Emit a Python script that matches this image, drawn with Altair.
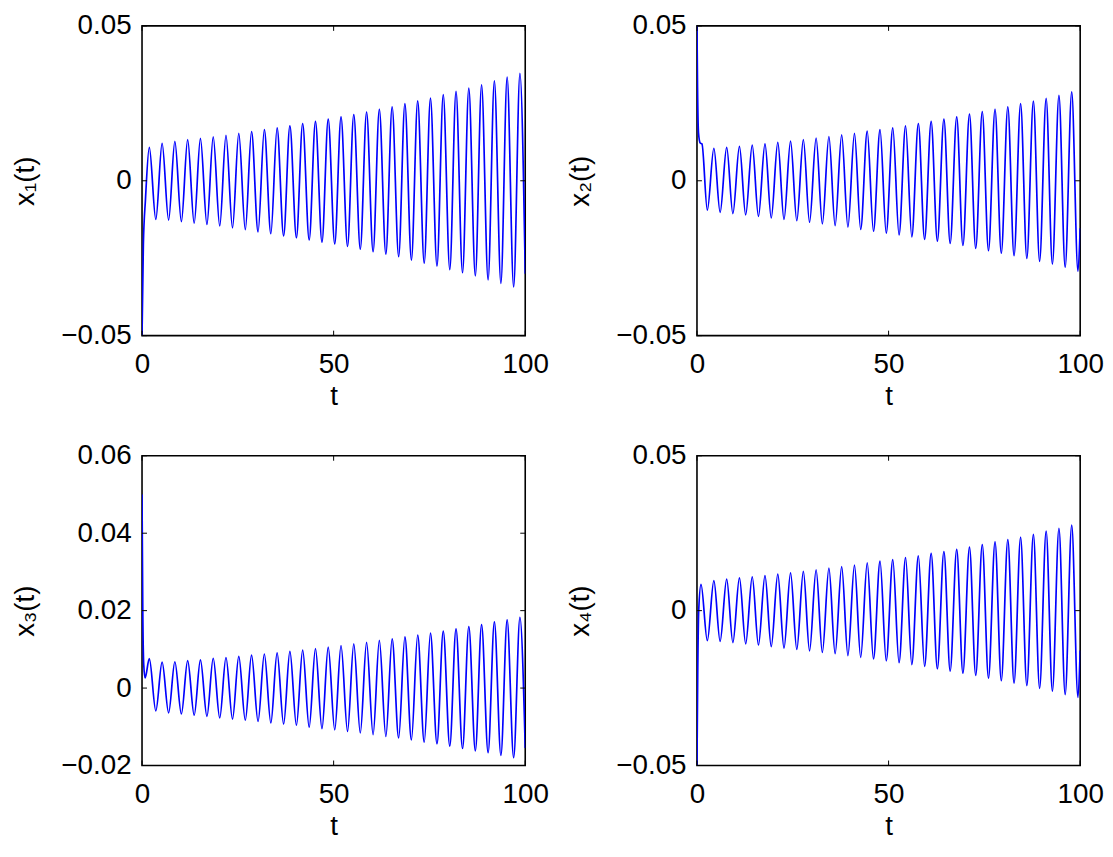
import altair as alt
import pandas as pd

# ---- tick values ----
x_ticks = [0, 50, 100]
y_ticks_a = [-0.05, 0, 0.05]
y_ticks_c = [-0.02, 0, 0.02, 0.04, 0.06]

# ---- times of maxima / minima ----
t_peaks_a = [1.9, 5.24, 8.57, 11.91, 15.24, 18.58, 21.91, 25.25, 28.58, 31.92,
             35.25, 38.59, 41.92, 45.26, 48.59, 51.93, 55.26, 58.6, 61.93, 65.27,
             68.6, 71.94, 75.27, 78.61, 81.94, 85.28, 88.61, 91.95, 95.28, 98.62]
t_troughs_a = [3.6, 6.94, 10.27, 13.61, 16.94, 20.28, 23.61, 26.95, 30.28, 33.62,
               36.95, 40.29, 43.62, 46.96, 50.29, 53.63, 56.96, 60.3, 63.63, 66.97,
               70.3, 73.64, 76.97, 80.31, 83.64, 86.98, 90.31, 93.65, 96.98]
t_peaks_b = [4.41, 7.75, 11.08, 14.42, 17.75, 21.09, 24.42, 27.76, 31.09, 34.43,
             37.76, 41.1, 44.43, 47.77, 51.1, 54.44, 57.77, 61.11, 64.44, 67.78,
             71.11, 74.45, 77.78, 81.12, 84.45, 87.79, 91.12, 94.46, 97.79]
t_troughs_b = [2.7, 6.04, 9.37, 12.71, 16.04, 19.38, 22.71, 26.05, 29.38, 32.72,
               36.05, 39.39, 42.72, 46.06, 49.39, 52.73, 56.06, 59.4, 62.73, 66.07,
               69.4, 72.74, 76.07, 79.41, 82.74, 86.08, 89.41, 92.75, 96.08, 99.42]

# ---- x1 ----
x1_start_t = [0, 0.35, 0.9]
x1_start_v = [-0.05, -0.0206, -0.006]
x1_peaks = [0.0108, 0.0121, 0.0127, 0.0133, 0.0137, 0.0142, 0.0147, 0.0153, 0.0159, 0.0165,
            0.0171, 0.0177, 0.0185, 0.0192, 0.0199, 0.0206, 0.0214, 0.0222, 0.0231, 0.0239,
            0.0249, 0.0258, 0.0267, 0.0278, 0.0289, 0.0299, 0.0310, 0.0323, 0.0335, 0.0347]
x1_troughs = [-0.0125, -0.0127, -0.0132, -0.0137, -0.0141, -0.0146, -0.0152, -0.0158, -0.0165, -0.0171,
              -0.0178, -0.0184, -0.0191, -0.0198, -0.0204, -0.0212, -0.0221, -0.0229, -0.0237, -0.0245,
              -0.0256, -0.0266, -0.0276, -0.0287, -0.0297, -0.0307, -0.0320, -0.0331, -0.0343]
x1_end = -0.030

# ---- x2 ----
x2_start_t = [0, 0.15, 0.4, 0.85, 1.3]
x2_start_v = [0.05, 0.03, 0.0154, 0.0122, 0.0119]
x2_peaks = [0.0105, 0.0108, 0.0111, 0.0115, 0.0119, 0.0124, 0.0128, 0.0133, 0.0138, 0.0143,
            0.0148, 0.0153, 0.0160, 0.0165, 0.0171, 0.0177, 0.0185, 0.0192, 0.0199, 0.0206,
            0.0215, 0.0223, 0.0231, 0.0239, 0.0249, 0.0257, 0.0266, 0.0276, 0.0287]
x2_troughs = [-0.0095, -0.0102, -0.0106, -0.0110, -0.0115, -0.0120, -0.0125, -0.0129, -0.0134, -0.0139,
              -0.0145, -0.0150, -0.0157, -0.0163, -0.0169, -0.0175, -0.0181, -0.0189, -0.0195, -0.0202,
              -0.0209, -0.0218, -0.0226, -0.0234, -0.0242, -0.0251, -0.0260, -0.0269, -0.0280, -0.0292]
x2_end = -0.0153

# ---- x3 ----
x3_start_t = [0, 0.2, 0.45, 0.8]
x3_start_v = [0.05, 0.02, 0.006, 0.0026]
x3_peaks = [0.0076, 0.0067, 0.0068, 0.0071, 0.0073, 0.0077, 0.0079, 0.0082, 0.0085, 0.0088,
            0.0091, 0.0095, 0.0098, 0.0102, 0.0106, 0.0110, 0.0114, 0.0118, 0.0123, 0.0127,
            0.0132, 0.0137, 0.0142, 0.0147, 0.0153, 0.0159, 0.0164, 0.0171, 0.0176, 0.0183]
x3_troughs = [-0.0059, -0.0064, -0.0067, -0.0070, -0.0073, -0.0077, -0.0080, -0.0083, -0.0086, -0.0090,
              -0.0093, -0.0096, -0.0101, -0.0105, -0.0108, -0.0112, -0.0116, -0.0120, -0.0125, -0.0129,
              -0.0134, -0.0140, -0.0144, -0.0150, -0.0156, -0.0162, -0.0167, -0.0174, -0.0180]
x3_end = -0.0155

# ---- x4 ----
x4_start_t = [0, 0.2, 0.45]
x4_start_v = [-0.05, -0.02, 0.0]
x4_first_peak_t = [1.05]
x4_peaks = [0.0085, 0.0097, 0.0102, 0.0106, 0.0109, 0.0113, 0.0118, 0.0122, 0.0127, 0.0132,
            0.0137, 0.0142, 0.0147, 0.0154, 0.0160, 0.0165, 0.0171, 0.0177, 0.0185, 0.0191,
            0.0198, 0.0205, 0.0213, 0.0222, 0.0229, 0.0237, 0.0246, 0.0257, 0.0266, 0.0276]
x4_troughs = [-0.0097, -0.0099, -0.0103, -0.0107, -0.0111, -0.0116, -0.0121, -0.0125, -0.0130, -0.0135,
              -0.0139, -0.0145, -0.0151, -0.0156, -0.0162, -0.0168, -0.0174, -0.0180, -0.0188, -0.0195,
              -0.0202, -0.0209, -0.0218, -0.0226, -0.0234, -0.0242, -0.0251, -0.0260, -0.0271, -0.0280]
x4_end = -0.0129


def series(st, sv, pt, pv, tt, tv, end_v):
    pts = list(zip(st, sv)) + list(zip(pt, pv)) + list(zip(tt, tv)) + [(100, end_v)]
    pts.sort(key=lambda p: p[0])
    return pd.DataFrame(pts, columns=["t", "v"])


df1 = series(x1_start_t, x1_start_v, t_peaks_a, x1_peaks, t_troughs_a, x1_troughs, x1_end)
df2 = series(x2_start_t, x2_start_v, t_peaks_b, x2_peaks, t_troughs_b, x2_troughs, x2_end)
df3 = series(x3_start_t, x3_start_v, t_peaks_a, x3_peaks, t_troughs_a, x3_troughs, x3_end)
df4 = series(x4_start_t, x4_start_v, x4_first_peak_t + t_peaks_b, x4_peaks, t_troughs_b, x4_troughs, x4_end)

W, H = 386, 312
FS = 28
TICK = 5
FONT = "Liberation Sans"


def panel(df, ydom, yticks, ytitle):
    xscale = alt.Scale(domain=[0, 100], nice=False, zero=False)
    yscale = alt.Scale(domain=ydom, nice=False, zero=False)
    xaxis = alt.Axis(values=x_ticks, title="t", labelFlush=False, labelPadding=15,
                     titlePadding=4, labelOverlap=False, domain=False, ticks=False,
                     grid=False, labelFont=FONT, titleFont=FONT, labelFontSize=FS,
                     titleFontSize=FS, titleFontWeight="normal",
                     labelColor="black", titleColor="black")
    yaxis = alt.Axis(values=yticks, title=ytitle, labelFlush=False, labelPadding=11,
                     titlePadding=21, labelOverlap=False, domain=False, ticks=False,
                     grid=False, labelFont=FONT, titleFont=FONT, labelFontSize=FS,
                     titleFontSize=FS, titleFontWeight="normal",
                     labelColor="black", titleColor="black",
                     labelExpr="datum.value == 0 ? '0' : format(datum.value, '.2f')")
    X = alt.X("t:Q", scale=xscale, axis=xaxis)
    Y = alt.Y("v:Q", scale=yscale, axis=yaxis)

    line = alt.Chart(df).mark_line(color="#0000FF", strokeWidth=1.7,
                                   interpolate="monotone", clip=True).encode(x=X, y=Y)
    tx = pd.DataFrame({"t": x_ticks})
    ty = pd.DataFrame({"v": yticks})
    xt_bot = alt.Chart(tx).mark_rule(color="black", strokeWidth=1).encode(
        x=X, y=alt.value(H), y2=alt.value(H - TICK))
    xt_top = alt.Chart(tx).mark_rule(color="black", strokeWidth=1).encode(
        x=X, y=alt.value(0), y2=alt.value(TICK))
    yt_l = alt.Chart(ty).mark_rule(color="black", strokeWidth=1).encode(
        y=Y, x=alt.value(0), x2=alt.value(TICK))
    yt_r = alt.Chart(ty).mark_rule(color="black", strokeWidth=1).encode(
        y=Y, x=alt.value(W - TICK), x2=alt.value(W))
    return alt.layer(line, xt_bot, xt_top, yt_l, yt_r).properties(width=W, height=H)


p1 = panel(df1, [-0.05, 0.05], y_ticks_a, "x₁(t)")
p2 = panel(df2, [-0.05, 0.05], y_ticks_a, "x₂(t)")
p3 = panel(df3, [-0.02, 0.06], y_ticks_c, "x₃(t)")
p4 = panel(df4, [-0.05, 0.05], y_ticks_a, "x₄(t)")

chart = alt.concat(p1, p2, p3, p4, columns=2,
                   spacing={"row": 121, "column": 173}, bounds="flush").properties(
    padding={"left": 3, "top": 0, "right": 0, "bottom": -4},
    background="white"
).configure_view(
    stroke="black", strokeWidth=1.6
)

chart.save("out.html", embed_options={"renderer": "svg", "actions": False})
